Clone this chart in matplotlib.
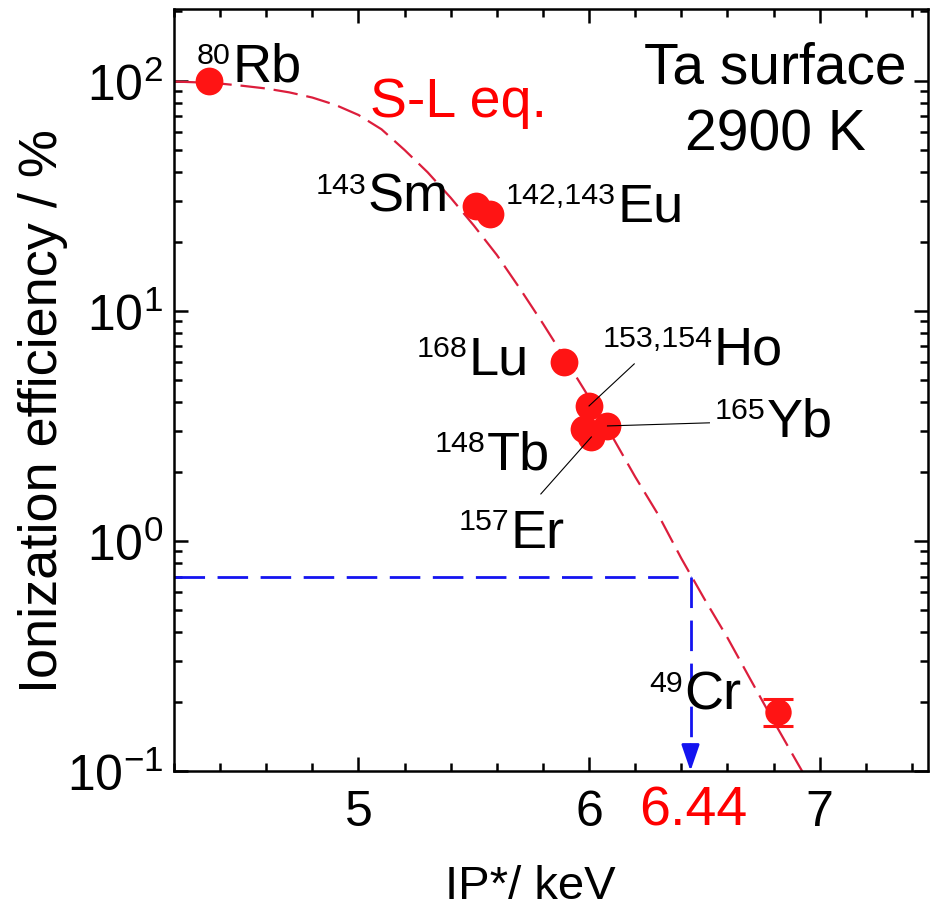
import matplotlib
matplotlib.use('Agg')
import matplotlib.pyplot as plt
import matplotlib.transforms as mtransforms
from matplotlib.ticker import LogLocator, NullFormatter, FixedLocator

plt.rcParams['font.family'] = ['Liberation Sans', 'DejaVu Sans']
plt.rcParams['mathtext.default'] = 'regular'

# measured points (IP* in keV as labelled, efficiency in %)
mass_numbers = ['80', '143', '142,143', '168', '153,154', '148', '157', '165', '49']
elements = ['Rb', 'Sm', 'Eu', 'Lu', 'Ho', 'Tb', 'Er', 'Yb', 'Cr']
ip = [4.35, 5.51, 5.57, 5.89, 6.00, 5.98, 6.01, 6.08, 6.82]
eff = [100, 28.6, 26.4, 6.0, 3.86, 3.07, 2.83, 3.16, 0.181]
cr_err_low = 0.024
cr_err_high = 0.025

# S-L eq. curve
sl_ip = [4.2, 4.3, 4.4, 4.5, 4.6, 4.7, 4.8, 4.9, 5.0, 5.1, 5.2, 5.3, 5.4, 5.5,
         5.6, 5.7, 5.8, 5.9, 6.0, 6.1, 6.2, 6.3, 6.4, 6.5, 6.6, 6.7, 6.8, 6.9, 6.95]
sl_eff = [99.2, 98.4, 97.2, 95, 92.5, 89, 84.5, 78.5, 71, 61.5, 50, 40, 31, 23.5,
          17.5, 12.5, 8.8, 6.1, 4.2, 2.85, 1.9, 1.3, 0.84, 0.56, 0.38, 0.25, 0.165, 0.11, 0.09]

ip_cut = 6.44
eff_cut = 0.70

fig = plt.figure(figsize=(9.31, 9.12), dpi=100)
ax = fig.add_axes([174 / 931, 1 - 772 / 912, 754 / 931, 762 / 912])

red_curve = '#dc1e3c'
ax.plot(sl_ip, sl_eff, color=red_curve, lw=1.6, dashes=(11, 4), zorder=2)

# blue guide lines
ax.plot([4.2, ip_cut], [eff_cut, eff_cut], color='#1414f0', lw=2.0, dashes=(11, 4.5), zorder=2)
ax.plot([ip_cut, ip_cut], [eff_cut, 0.13], color='#1414f0', lw=2.0, dashes=(11, 4.5), zorder=2)
ax.annotate('', xy=(ip_cut, 0.1), xytext=(ip_cut, 0.13),
            arrowprops=dict(arrowstyle='-|>,head_length=1.6,head_width=0.55',
                            color='#1414f0', lw=2.0, shrinkA=0, shrinkB=0), zorder=3)

ax.plot(ip[:-1], eff[:-1], 'o', color='#ff1414', ms=20, mec='none', zorder=4)
ax.errorbar([ip[-1]], [eff[-1]], yerr=[[cr_err_low], [cr_err_high]], fmt='o', color='#ff1414',
            ms=19, mec='none', capsize=11, capthick=2.2, elinewidth=1.5, zorder=4)

ax.set_yscale('log')
ax.set_xlim(4.2, 7.47)
ax.set_ylim(0.1, 205)

ax.xaxis.set_major_locator(FixedLocator([5, 6, 7]))
ax.xaxis.set_minor_locator(FixedLocator([4.2, 4.4, 4.6, 4.8, 5.2, 5.4, 5.6, 5.8,
                                         6.2, 6.4, 6.6, 6.8, 7.2, 7.4]))
ax.yaxis.set_major_locator(LogLocator(base=10))
ax.yaxis.set_minor_locator(LogLocator(base=10, subs=range(2, 10)))
ax.yaxis.set_minor_formatter(NullFormatter())

ax.tick_params(which='both', direction='in', top=True, right=True, width=1.8)
ax.tick_params(which='major', length=10)
ax.tick_params(which='minor', length=5.5)
ax.tick_params(axis='x', labelsize=36, pad=13)
ax.tick_params(axis='y', labelsize=36, pad=8)
for s in ax.spines.values():
    s.set_linewidth(1.8)

ax.set_xlabel('IP*/ keV', fontsize=34)
ax.xaxis.set_label_coords(0.473, -0.122)
ax.set_ylabel('Ionization efficiency / %', fontsize=39)
ax.yaxis.set_label_coords(-0.141, 0.474)


def nuclide_label(x, y, mass, elem, fs=39):
    # mass number as a small raised text, element symbol right after it
    m = ax.annotate(mass, xy=(x, y), xytext=(0, 13), textcoords='offset points',
                    fontsize=fs * 0.56, ha='left', va='baseline', zorder=5)
    ax.annotate(elem, xy=(1, y), xycoords=(m, 'data'), xytext=(1, 0),
                textcoords='offset points', fontsize=fs, ha='left', va='baseline', zorder=5)


# nuclide labels (left edge, baseline)
label_pos = [(4.30, 100), (4.813, 27.2), (5.639, 24.6), (5.252, 5.32), (6.057, 5.88),
             (5.330, 2.06), (5.435, 0.94), (6.543, 2.86), (6.261, 0.186)]
for mass, elem, (lx, ly) in zip(mass_numbers, elements, label_pos):
    nuclide_label(lx, ly, mass, elem)

# leader lines
leader_ends = {4: (6.196, 5.88), 7: (6.522, 3.26), 6: (5.791, 1.60)}
for i, (lx, ly) in leader_ends.items():
    ax.plot([lx, ip[i]], [ly, eff[i]], color='black', lw=0.8, zorder=5)

ax.text(5.052, 70.4, 'S-L eq.', color='red', fontsize=40, ha='left', va='baseline')
ax.text(0.798, 0.904, 'Ta surface', fontsize=41, ha='center', va='baseline', transform=ax.transAxes)
ax.text(0.798, 0.816, '2900 K', fontsize=41, ha='center', va='baseline', transform=ax.transAxes)

trans = mtransforms.blended_transform_factory(ax.transData, ax.transAxes)
ax.text(6.45, -0.0696, '6.44', color='red', fontsize=40, ha='center', va='baseline',
        transform=trans, clip_on=False)

fig.savefig('out.png', dpi=100)
